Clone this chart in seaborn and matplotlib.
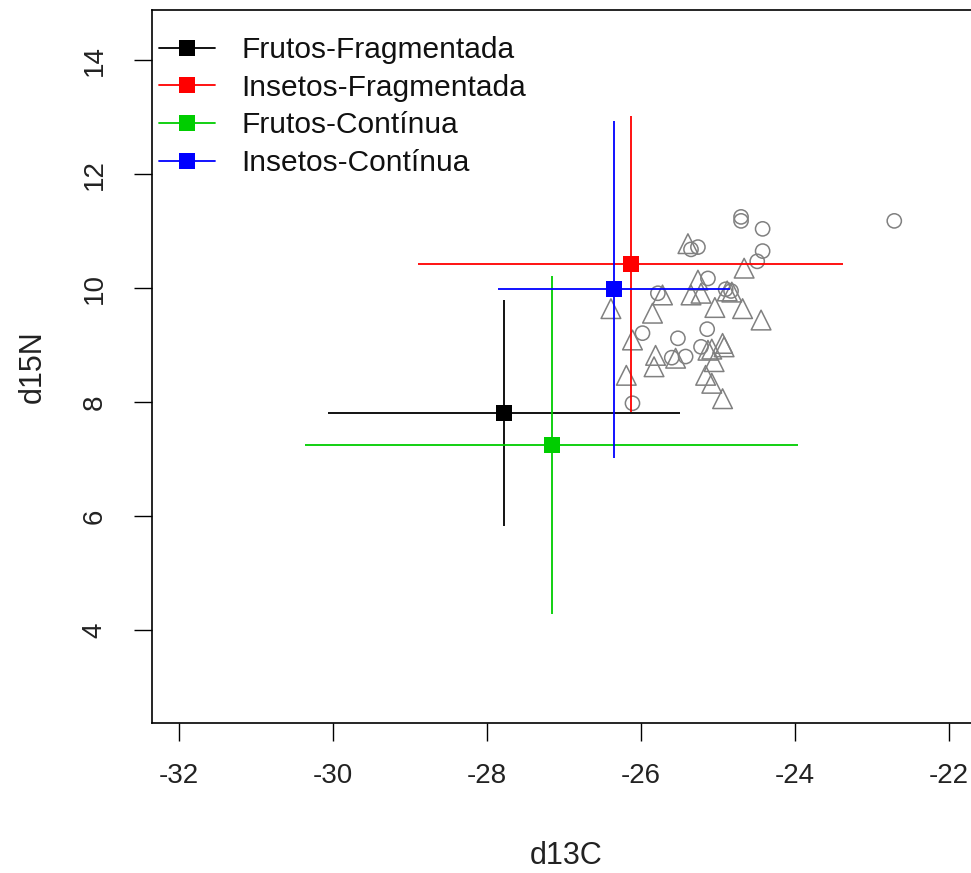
import matplotlib
matplotlib.use("Agg")
import matplotlib.pyplot as plt
from matplotlib.lines import Line2D
import seaborn as sns
import pandas as pd

# ---- data ----
circle_x = [-22.71, -24.70, -24.70, -24.42, -24.42, -24.49, -25.26, -25.35, -25.13,
            -25.78, -24.90, -24.83, -25.98, -25.14, -25.52, -25.22, -25.42, -25.60, -26.11]
circle_y = [11.18, 11.25, 11.18, 11.04, 10.65, 10.47, 10.72, 10.68, 10.17,
            9.91, 9.98, 9.95, 9.21, 9.28, 9.12, 8.97, 8.80, 8.78, 7.98]

tri_x = [-25.39, -25.72, -26.39, -25.85, -25.35, -25.26, -25.22, -24.88, -24.82,
         -24.66, -25.04, -24.68, -24.44, -26.11, -25.13, -24.94, -24.92, -25.81,
         -25.83, -25.55, -25.05, -25.16, -25.08, -24.94, -26.19, -25.08]
tri_y = [10.78, 9.88, 9.64, 9.56, 9.88, 10.14, 9.91, 9.95, 9.93,
         10.35, 9.66, 9.64, 9.44, 9.09, 8.91, 9.03, 8.97, 8.82,
         8.62, 8.77, 8.71, 8.47, 8.33, 8.06, 8.47, 8.93]

groups = ["Frutos-Fragmentada", "Insetos-Fragmentada", "Frutos-Contínua", "Insetos-Contínua"]
group_colors = ["#000000", "#FF0000", "#00CD00", "#0000FF"]
mean_x = [-27.78, -26.13, -27.16, -26.35]
mean_y = [7.81, 10.42, 7.25, 9.98]
err_x = [2.29, 2.76, 3.20, 1.51]
err_y = [1.99, 2.60, 2.96, 2.96]

x_ticks = [-32, -30, -28, -26, -24, -22]
y_ticks = [4, 6, 8, 10, 12, 14]

# ---- figure ----
sns.set_theme(style="white")
plt.rcParams["font.family"] = ["Liberation Sans", "DejaVu Sans"]

W, H = 971, 873
fig = plt.figure(figsize=(W / 100, H / 100), dpi=100)
left, bottom, top = 152 / W, 1 - 723 / H, 1 - 10 / H
right = 979.75 / W
ax = fig.add_axes([left, bottom, right - left, top - bottom])

gray = "#808080"
df_c = pd.DataFrame({"x": circle_x, "y": circle_y})
df_t = pd.DataFrame({"x": tri_x, "y": tri_y})
sns.scatterplot(data=df_c, x="x", y="y", marker="o", s=105, facecolor="none",
                edgecolor=gray, linewidth=1.1, ax=ax, zorder=2)
sns.scatterplot(data=df_t, x="x", y="y", marker="^", s=200, facecolor="none",
                edgecolor=gray, linewidth=1.1, ax=ax, zorder=2)

for g, c, mx, my, ex, ey in zip(groups, group_colors, mean_x, mean_y, err_x, err_y):
    ax.errorbar(mx, my, xerr=ex, yerr=ey, fmt="none", ecolor=c, elinewidth=1.3,
                capsize=0, zorder=3)
df_m = pd.DataFrame({"x": mean_x, "y": mean_y, "g": groups})
sns.scatterplot(data=df_m, x="x", y="y", hue="g", palette=group_colors, marker="s",
                s=135, linewidth=0, ax=ax, legend=False, zorder=4)

ax.set_xlim(-32.35, -21.6)
ax.set_ylim(2.37, 14.88)
ax.set_xticks(x_ticks)
ax.set_xticklabels([str(v) for v in x_ticks])
ax.set_yticks(y_ticks)
ax.set_yticklabels([str(v) for v in y_ticks], rotation=90, va="center")

for sp in ax.spines.values():
    sp.set_visible(True)
    sp.set_color("black")
    sp.set_linewidth(1.2)

ax.tick_params(axis="both", which="both", direction="out", length=13, width=1.0,
               color="black", labelsize=20, labelcolor="#222222")
ax.tick_params(axis="x", pad=16, bottom=True)
ax.tick_params(axis="y", pad=19, left=True)

ax.set_xlabel("d13C", fontsize=22, labelpad=37, color="#222222")
ax.set_ylabel("d15N", fontsize=22, labelpad=24, color="#222222")

handles = [Line2D([], [], color=c, lw=1.3, marker="s", markersize=11, markeredgewidth=0)
           for c in group_colors]
leg = ax.legend(handles, groups, loc="upper left", bbox_to_anchor=(0.009, 0.963),
                frameon=False, fontsize=21.5, handlelength=1.85, handletextpad=0.9,
                labelspacing=0.32, borderpad=0, borderaxespad=0)
for t in leg.get_texts():
    t.set_color("#111111")

fig.savefig("out.png", dpi=100)
